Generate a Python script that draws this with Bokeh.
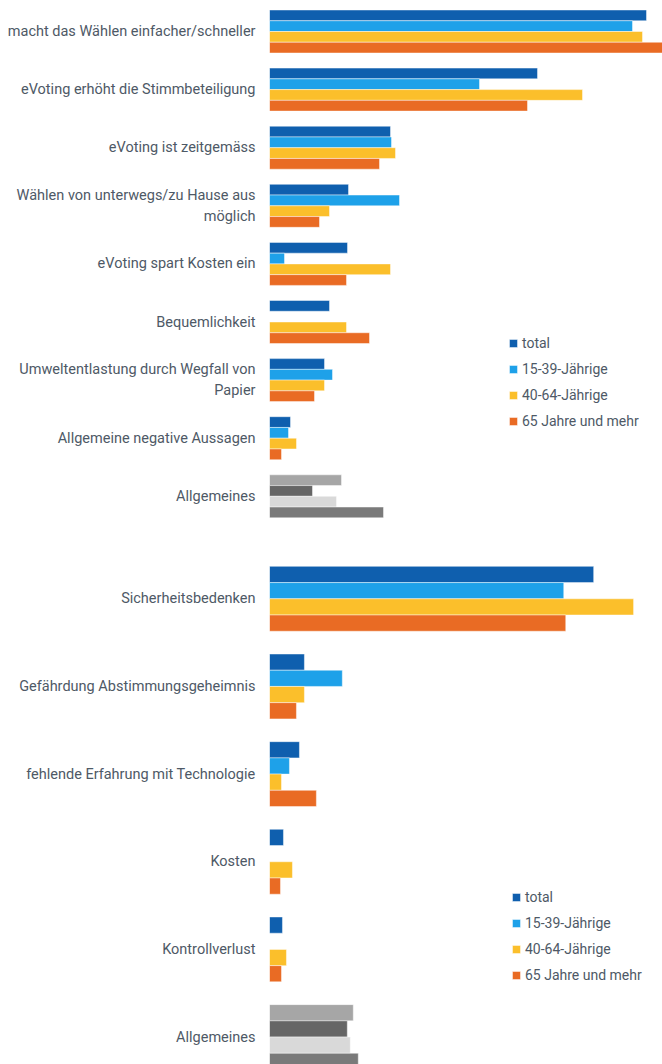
from bokeh.plotting import figure
from bokeh.models import ColumnDataSource, Range1d, FixedTicker, Legend, LegendItem
from bokeh.transform import dodge
from bokeh.layouts import column
from bokeh.embed import file_html
from bokeh.resources import INLINE

# ---------------- data ----------------
series = ["total", "15-39-Jährige", "40-64-Jährige", "65 Jahre und mehr"]

pro_categories = [
    "macht das Wählen einfacher/schneller",
    "eVoting erhöht die Stimmbeteiligung",
    "eVoting ist zeitgemäss",
    "Wählen von unterwegs/zu Hause aus\nmöglich",
    "eVoting spart Kosten ein",
    "Bequemlichkeit",
    "Umweltentlastung durch Wegfall von\nPapier",
    "Allgemeine negative Aussagen",
    "Allgemeines",
]
pro_total = [37.7, 26.8, 12.1, 7.9, 7.8, 6.0, 5.5, 2.1, 7.2]
pro_15_39 = [36.3, 21.0, 12.2, 13.0, 1.5, 0.0, 6.3, 1.9, 4.3]
pro_40_64 = [37.3, 31.3, 12.6, 6.0, 12.1, 7.7, 5.5, 2.7, 6.7]
pro_65 = [40.0, 25.8, 11.0, 5.0, 7.7, 10.0, 4.5, 1.2, 11.4]

contra_categories = [
    "Sicherheitsbedenken",
    "Gefährdung Abstimmungsgeheimnis",
    "fehlende Erfahrung mit Technologie",
    "Kosten",
    "Kontrollverlust",
    "Allgemeines",
]
contra_total = [32.5, 3.5, 3.0, 1.4, 1.3, 8.4]
contra_15_39 = [29.5, 7.3, 2.0, 0.0, 0.0, 7.8]
contra_40_64 = [36.5, 3.5, 1.2, 2.3, 1.7, 8.1]
contra_65 = [29.7, 2.7, 4.7, 1.1, 1.2, 8.9]

# ---------------- style ----------------
COLORS = ["#0f5fae", "#1ea1e9", "#fbbf2b", "#e96b24"]
GREYS = ["#a6a6a6", "#666666", "#d9d9d9", "#7a7a7a"]
OFFSETS = [-0.2775, -0.0925, 0.0925, 0.2775]
BAR_H = 0.185
FONT = "Roboto"
TEXT_COLOR = "#4e5966"


def make_chart(cats, values, width, height, border_left, y_top, y_bottom,
               x_end, legend_loc):
    n = len(cats)
    p = figure(width=width, height=height, output_backend="svg",
               toolbar_location=None, x_range=Range1d(0, x_end),
               y_range=Range1d(y_bottom, y_top),
               min_border_left=border_left, min_border_right=0,
               min_border_top=0, min_border_bottom=0)
    p.xaxis.visible = False
    p.xgrid.visible = False
    p.ygrid.visible = False
    p.outline_line_color = None
    p.background_fill_color = "white"
    p.border_fill_color = "white"

    items = []
    for k, name in enumerate(series):
        src = ColumnDataSource(dict(
            y=list(range(n)),
            v=values[k],
            color=[COLORS[k]] * (n - 1) + [GREYS[k]],
        ))
        r = p.hbar(y=dodge("y", OFFSETS[k], range=p.y_range), left=0,
                   right="v", height=BAR_H, source=src,
                   fill_color="color", line_color="white",
                   line_alpha=0.45, line_width=1)
        items.append(LegendItem(label=name, renderers=[r]))

    ax = p.yaxis[0]
    ax.ticker = FixedTicker(ticks=list(range(n)))
    ax.major_label_overrides = {i: c for i, c in enumerate(cats)}
    ax.axis_line_color = None
    ax.major_tick_line_color = None
    ax.minor_tick_line_color = None
    ax.major_tick_out = 0
    ax.major_tick_in = 0
    ax.major_label_standoff = 14
    ax.major_label_text_font = FONT
    ax.major_label_text_font_size = "14.5px"
    ax.major_label_text_color = TEXT_COLOR

    legend = Legend(items=items, location=legend_loc)
    legend.glyph_width = 10
    legend.glyph_height = 10
    legend.label_height = 20
    legend.spacing = 6
    legend.padding = 0
    legend.margin = 0
    legend.label_standoff = 4
    legend.border_line_color = None
    legend.background_fill_alpha = 0
    legend.label_text_font = FONT
    legend.label_text_font_size = "14px"
    legend.label_text_color = TEXT_COLOR
    p.add_layout(legend)
    return p


p1 = make_chart(pro_categories, [pro_total, pro_15_39, pro_40_64, pro_65],
                width=662, height=528, border_left=269,
                y_top=-0.5336, y_bottom=8.554, x_end=39.3,
                legend_loc=(239, 97))

p2 = make_chart(contra_categories,
                [contra_total, contra_15_39, contra_40_64, contra_65],
                width=662, height=536, border_left=268,
                y_top=-0.802, y_bottom=5.313, x_end=39.4,
                legend_loc=(242, 79))

layout = column(p1, p2, spacing=0)
open("out.html", "w").write(file_html(layout, INLINE))
